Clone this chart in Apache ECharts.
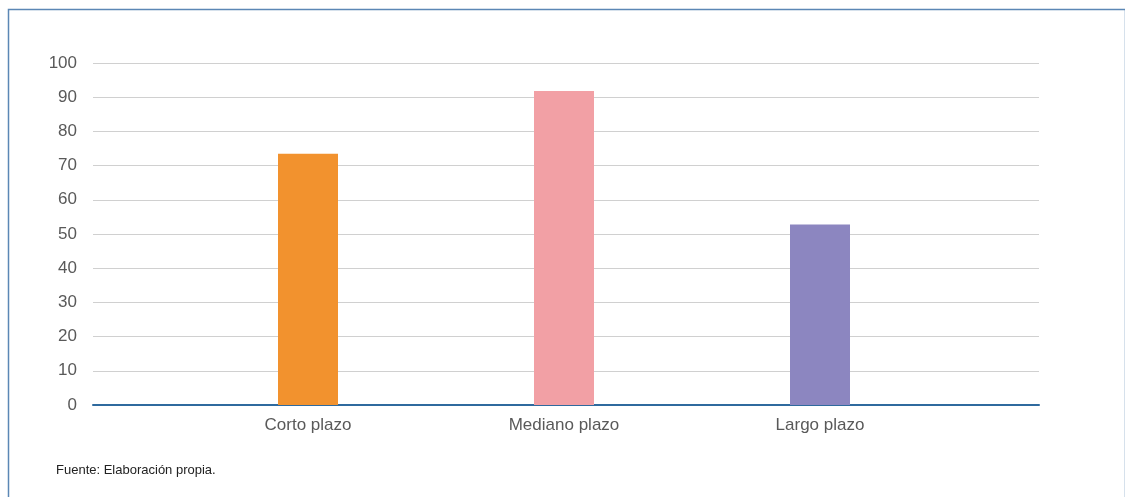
<!DOCTYPE html>
<html>
  <head>
    <meta charset="utf-8" />
    <script src="https://cdn.jsdelivr.net/npm/echarts@6.0.0/dist/echarts.min.js"></script>
  </head>
  <body style="margin:0;">
    <div id="main" style="width: 1125px;height:497px;"></div>
    <script type="text/javascript">
      var myChart = echarts.init(document.getElementById('main'));

      // data
      const categories = ['Corto plazo', 'Mediano plazo', 'Largo plazo'];
      const values = [73.5, 91.8, 52.8];
      const barColors = ['#f2922e', '#f2a0a5', '#8c86c0'];
      const yTicks = [0, 10, 20, 30, 40, 50, 60, 70, 80, 90, 100];

      const labelColor = '#595959';
      const fontName = '"Liberation Sans", Arial, sans-serif';

      option = {
        animation: false,
        backgroundColor: '#fff',
        grid: [
          // full width grid for the gridlines and the y labels
          { left: 93, right: 86, top: 63, bottom: 92 },
          // narrower grid holding the bars
          { left: 180, right: 177, top: 63, bottom: 92 }
        ],
        xAxis: [
          { type: 'category',
            gridIndex: 0,
            data: [''],
            axisLine: { show: true, lineStyle: { color: '#2f6a9e', width: 2 } },
            axisTick: { show: false },
            axisLabel: { show: false }
          },
          { type: 'category',
            gridIndex: 1,
            data: categories,
            axisLine: { show: false },
            axisTick: { show: false },
            axisLabel: {
              color: labelColor,
              fontFamily: fontName,
              fontSize: 17,
              margin: 12
            }
          }
        ],
        yAxis: [
          { type: 'value',
            gridIndex: 0,
            min: yTicks[0],
            max: yTicks[yTicks.length - 1],
            interval: 10,
            axisLine: { show: false },
            axisTick: { show: false },
            splitLine: { lineStyle: { color: '#d0d0d0', width: 1 } },
            axisLabel: {
              color: labelColor,
              fontFamily: fontName,
              fontSize: 17,
              margin: 16
            }
          },
          { type: 'value',
            gridIndex: 1,
            min: yTicks[0],
            max: yTicks[yTicks.length - 1],
            interval: 10,
            show: false
          }
        ],
        graphic: [
          { type: 'rect',
            left: 6,
            top: 7,
            shape: { width: 1117, height: 500 },
            style: { fill: 'none', stroke: '#5b87b5', lineWidth: 1.5 },
            z: 100
          },
          { type: 'text',
            left: 56,
            top: 464,
            style: {
              text: 'Fuente: Elaboración propia.',
              fill: '#222',
              font: '13px ' + fontName
            }
          }
        ],
        series: [
          { name: 'Valor',
            type: 'bar',
            xAxisIndex: 1,
            yAxisIndex: 1,
            barWidth: 60,
            data: values.map((v, i) => ({ value: v, itemStyle: { color: barColors[i] } }))
          }
        ]
      };

      myChart.setOption(option);
    </script>
  </body>
</html>
